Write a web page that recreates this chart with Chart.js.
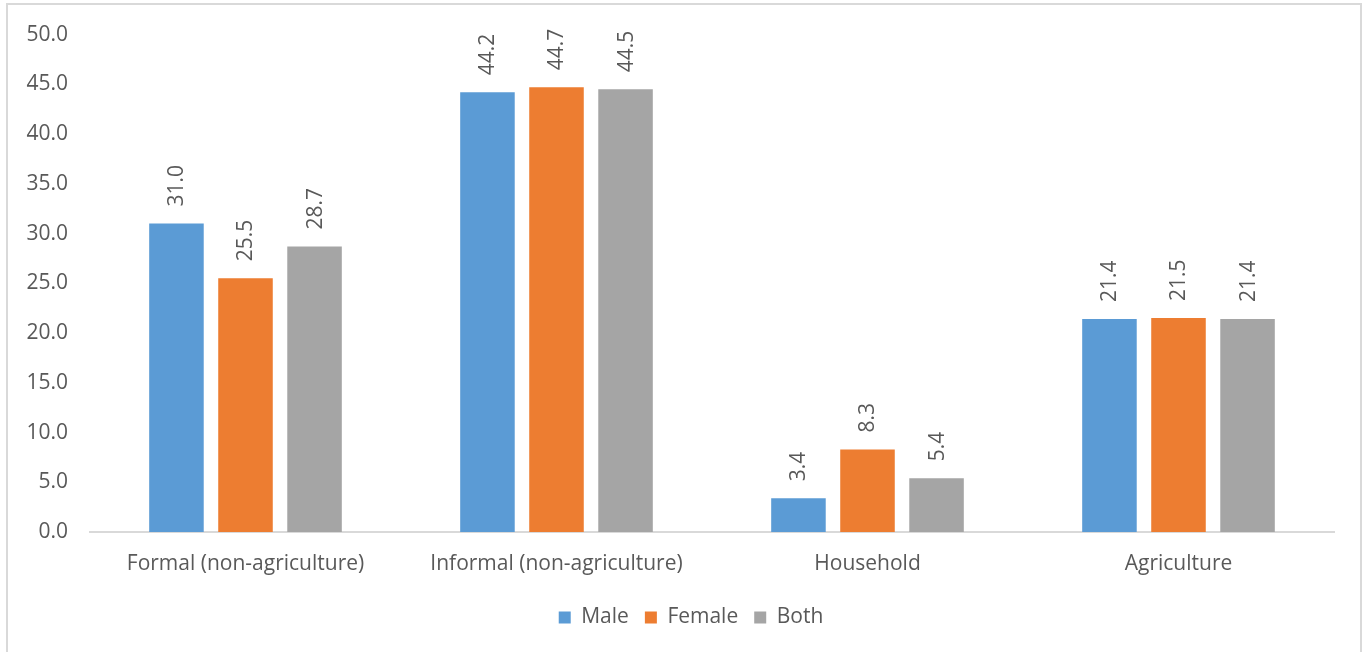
<!DOCTYPE html>
<html>
<head>
<meta charset="utf-8">
<title>Employment by sector and sex</title>
<script src="https://cdn.jsdelivr.net/npm/chart.js@4/dist/chart.umd.min.js"></script>
<style>
  html, body { margin: 0; padding: 0; background: #ffffff; }
  #frame {
    position: absolute; left: 6px; top: 3px; width: 1356px; height: 700px;
    border: 2px solid #d9d9d9; box-sizing: border-box;
  }
  #wrap { position: absolute; left: 0; top: 0; width: 1368px; height: 652px; }
</style>
</head>
<body>
<div id="frame"></div>
<div id="wrap"><canvas id="chart" width="1368" height="652"></canvas></div>
<script>
// Share of employment (%) by sector
const categories = ['Formal (non-agriculture)', 'Informal (non-agriculture)', 'Household', 'Agriculture'];
const male   = [31.0, 44.2, 3.4, 21.4];
const female = [25.5, 44.7, 8.3, 21.5];
const both   = [28.7, 44.5, 5.4, 21.4];
const seriesNames = ['Male', 'Female', 'Both'];
const yTicks = [0, 5, 10, 15, 20, 25, 30, 35, 40, 45, 50];

const TEXT = '#595959';
const FONT = '"Open Sans", "DejaVu Sans", sans-serif';
const SIZE = 21;

// Rotated value labels above each bar
const valueLabels = {
  id: 'valueLabels',
  afterDatasetsDraw(chart) {
    const ctx = chart.ctx;
    ctx.save();
    ctx.fillStyle = TEXT;
    ctx.font = SIZE + 'px ' + FONT;
    ctx.textAlign = 'left';
    ctx.textBaseline = 'middle';
    chart.data.datasets.forEach((ds, di) => {
      const meta = chart.getDatasetMeta(di);
      meta.data.forEach((bar, i) => {
        ctx.save();
        ctx.translate(bar.x + 1, bar.y - 17);
        ctx.rotate(-Math.PI / 2);
        ctx.fillText(ds.data[i].toFixed(1), 0, 0);
        ctx.restore();
      });
    });
    ctx.restore();
  }
};

// Centre the legend on the whole canvas rather than on the padded layout
const legendCentre = {
  id: 'legendCentre',
  afterLayout(chart) {
    const lg = chart.legend;
    if (!lg) return;
    const shift = 24;
    lg.left += shift;
    lg.right += shift;
  }
};

new Chart(document.getElementById('chart'), {
  type: 'bar',
  data: {
    labels: categories,
    datasets: [
      { label: seriesNames[0], data: male,   backgroundColor: '#5b9bd5' },
      { label: seriesNames[1], data: female, backgroundColor: '#ed7d31' },
      { label: seriesNames[2], data: both,   backgroundColor: '#a5a5a5' }
    ]
  },
  options: {
    responsive: false,
    animation: false,
    layout: { padding: { left: 0, right: 34, top: 33, bottom: 14 } },
    datasets: { bar: { categoryPercentage: 0.666, barPercentage: 0.79 } },
    plugins: {
      tooltip: { enabled: false },
      legend: {
        position: 'bottom',
        labels: {
          color: TEXT,
          font: { family: FONT, size: SIZE },
          boxWidth: 12, boxHeight: 12,
          padding: 16
        }
      }
    },
    scales: {
      x: {
        grid: { display: false },
        border: { display: true, color: '#d9d9d9', width: 2 },
        ticks: { color: TEXT, font: { family: FONT, size: SIZE }, padding: 11, maxRotation: 0 },
        afterFit(scale) { scale.height = 59; }
      },
      y: {
        min: 0, max: 50,
        afterBuildTicks(scale) { scale.ticks = yTicks.map(v => ({ value: v })); },
        grid: { display: false, drawTicks: false },
        border: { display: false },
        ticks: {
          color: TEXT, font: { family: FONT, size: SIZE }, padding: 22,
          callback: v => Number(v).toFixed(1)
        },
        afterFit(scale) { scale.width = 90; }
      }
    }
  },
  plugins: [valueLabels, legendCentre]
});
</script>
</body>
</html>
